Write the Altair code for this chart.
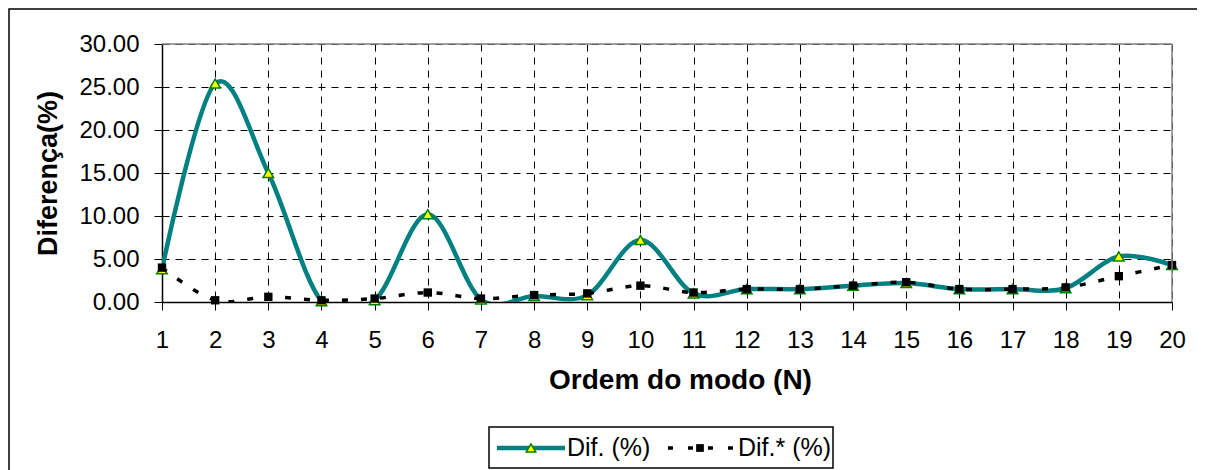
import altair as alt
import pandas as pd

# ---- data ----
modes = list(range(1, 21))
dif = [3.8, 25.4, 15.0, 0.1, 0.2, 10.2, 0.3, 0.7, 0.8, 7.2, 1.0, 1.5, 1.5, 1.9, 2.2, 1.5, 1.5, 1.6, 5.3, 4.3]
dif_star = [4.0, 0.2, 0.6, 0.2, 0.4, 1.1, 0.4, 0.8, 1.0, 1.9, 1.1, 1.5, 1.5, 1.9, 2.3, 1.5, 1.5, 1.7, 3.0, 4.3]
series_names = ["Dif. (%)", "Dif.* (%)"]
y_ticks = [0, 5, 10, 15, 20, 25, 30]
x_title = "Ordem do modo (N)"
y_title = "Diferença(%)"

df = pd.DataFrame({"N": modes, "dif": dif, "dif_star": dif_star})
one = pd.DataFrame({"label1": [series_names[0]], "label2": [series_names[1]]})

FONT = "Liberation Sans"
W, H = 1010, 258
TEAL = "#008080"

xscale = alt.Scale(domain=[1, 20], nice=False, zero=False)
yscale = alt.Scale(domain=[0, 30], nice=False)

xaxis = alt.Axis(
    values=modes, format="d", title=x_title,
    labelFont=FONT, labelFontSize=24, labelColor="black", labelPadding=18,
    labelFlush=False, labelOverlap=False,
    tickSize=8, tickColor="black", tickWidth=1,
    domainColor="black", domainWidth=1.5,
    grid=True, gridColor="black", gridDash=[7, 6], gridWidth=1,
    titleFont=FONT, titleFontSize=28, titleFontWeight="bold", titleColor="black",
    titleX=518, titleY=78, titleBaseline="middle", titleAlign="center",
)
yaxis = alt.Axis(
    values=y_ticks, format=".2f", title=y_title,
    labelFont=FONT, labelFontSize=24, labelColor="black", labelPadding=15,
    labelFlush=False, labelOverlap=False,
    tickSize=8, tickColor="black", tickWidth=1,
    domainColor="black", domainWidth=1.5,
    grid=True, gridColor="black", gridDash=[7, 6], gridWidth=1,
    titleFont=FONT, titleFontSize=27, titleFontWeight="bold", titleColor="black",
    titleX=-114, titleY=H / 2, titleAngle=270, titleBaseline="middle", titleAlign="center",
)

X = alt.X("N:Q", scale=xscale, axis=xaxis)

base = alt.Chart(df)
deco = alt.Chart(one)

frame = deco.mark_rect(fillOpacity=0, stroke="black", strokeWidth=1.5).encode(
    x=alt.value(-153), x2=alt.value(1100), y=alt.value(-35), y2=alt.value(700))

line_dif = base.mark_line(interpolate="cardinal", tension=0, color=TEAL, strokeWidth=4.5, clip=True).encode(
    x=X, y=alt.Y("dif:Q", scale=yscale, axis=yaxis))

tri = base.mark_point(shape="triangle-up", filled=True, fill="#FFFF00", stroke="#008000",
                      strokeWidth=1.5, size=110, opacity=1).encode(
    x=X, y=alt.Y("dif:Q", scale=yscale, axis=yaxis))

line_star = base.mark_line(interpolate="cardinal", tension=0, color="black", strokeWidth=3.5,
                           strokeDash=[6, 13], clip=True).encode(
    x=X, y=alt.Y("dif_star:Q", scale=yscale, axis=yaxis))

sq = base.mark_point(shape="square", filled=True, color="black", size=70, opacity=1).encode(
    x=X, y=alt.Y("dif_star:Q", scale=yscale, axis=yaxis))

border_top = deco.mark_rule(color="#808080", strokeWidth=1.5).encode(
    x=alt.value(0), x2=alt.value(W), y=alt.value(0))
border_right = deco.mark_rule(color="#808080", strokeWidth=1.5).encode(
    x=alt.value(W), y=alt.value(0), y2=alt.value(H))

# ---- legend ----
LY = 404
leg_box = deco.mark_rect(fill="white", stroke="black", strokeWidth=1.5).encode(
    x=alt.value(327), x2=alt.value(671), y=alt.value(383), y2=alt.value(424))
leg_l1 = deco.mark_rule(color=TEAL, strokeWidth=4.5).encode(
    x=alt.value(335), x2=alt.value(403), y=alt.value(LY))
leg_t1 = deco.mark_point(shape="triangle-up", filled=True, fill="#FFFF00", stroke="#008000",
                         strokeWidth=1.5, size=90, opacity=1).encode(
    x=alt.value(369), y=alt.value(LY))
leg_x1 = deco.mark_text(font=FONT, fontSize=25, align="left", baseline="middle", color="black").encode(
    x=alt.value(405), y=alt.value(LY), text="label1:N")
leg_l2 = deco.mark_rule(color="black", strokeWidth=3.5, strokeDash=[5, 15]).encode(
    x=alt.value(506), x2=alt.value(571), y=alt.value(LY))
leg_s2 = deco.mark_point(shape="square", filled=True, color="black", size=60, opacity=1).encode(
    x=alt.value(538), y=alt.value(LY))
leg_x2 = deco.mark_text(font=FONT, fontSize=25, align="left", baseline="middle", color="black").encode(
    x=alt.value(576), y=alt.value(LY), text="label2:N")

chart = alt.layer(
    frame, line_dif, tri, line_star, sq, border_top, border_right,
    leg_box, leg_l1, leg_t1, leg_x1, leg_l2, leg_s2, leg_x2,
).properties(
    width=W, height=H,
    padding={"left": 154, "top": 36, "right": 25, "bottom": 168},
    autosize=alt.AutoSizeParams(type="none"),
    background="white",
).configure_view(stroke=None)

chart.save("out.html", embed_options={"renderer": "svg", "actions": False})
